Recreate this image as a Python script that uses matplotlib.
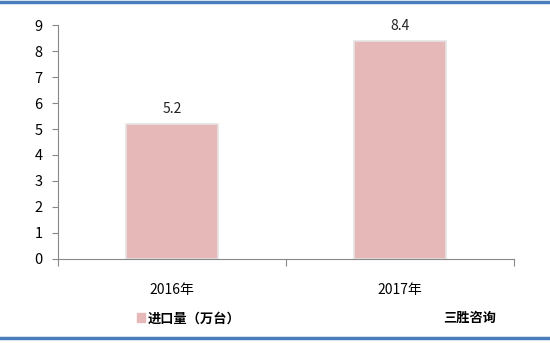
import matplotlib.pyplot as plt
from matplotlib.lines import Line2D

plt.rcParams['font.family'] = ['Noto Sans CJK SC', 'DejaVu Sans']

years = ["2016年", "2017年"]
values = [5.2, 8.4]
series_name = "进口量（万台）"
source = "三胜咨询"

fig = plt.figure(figsize=(5.5, 3.43), dpi=100)
ax = fig.add_axes([0.1055, 0.245, 0.829, 0.682])

x = range(len(years))
bars = ax.bar(x, values, width=0.4, color="#e6b8b7", edgecolor="#e4e4e4", linewidth=1.2)
for xi, v in zip(x, values):
    ax.text(xi, v + 0.3, f"{v}", ha="center", va="bottom", fontsize=10, color="#222222")

ax.set_xlim(-0.5, 1.5)
ax.set_ylim(0, 9)
ax.set_yticks(range(10))
ax.set_xticks([-0.5, 0.5, 1.5])
ax.set_xticklabels([])
ax.set_xticks(list(x), minor=True)
ax.set_xticklabels(years, minor=True, fontsize=10)
ax.tick_params(axis="x", which="minor", length=0, pad=17)
ax.tick_params(axis="x", which="major", length=5, color="#888888")
ax.tick_params(axis="y", length=4, color="#888888", labelsize=10.5, pad=7)
for side in ["top", "right"]:
    ax.spines[side].set_visible(False)
ax.spines["left"].set_color("#888888")
ax.spines["bottom"].set_color("#888888")

# legend and source
fig.patches.append(plt.Rectangle((0.249, 0.062), 0.014, 0.025, transform=fig.transFigure,
                                 color="#e6b8b7"))
fig.text(0.268, 0.072, series_name, fontsize=9.5, fontweight="bold", va="center")
fig.text(0.805, 0.072, source, fontsize=9.5, fontweight="bold", va="center")

# blue frame lines
fig.add_artist(Line2D([0, 1], [0.993, 0.993], color="#4a7ebb", linewidth=2.5, transform=fig.transFigure))
fig.add_artist(Line2D([0, 1], [0.015, 0.015], color="#4a7ebb", linewidth=2.5, transform=fig.transFigure))

fig.savefig("out.png", dpi=100)
